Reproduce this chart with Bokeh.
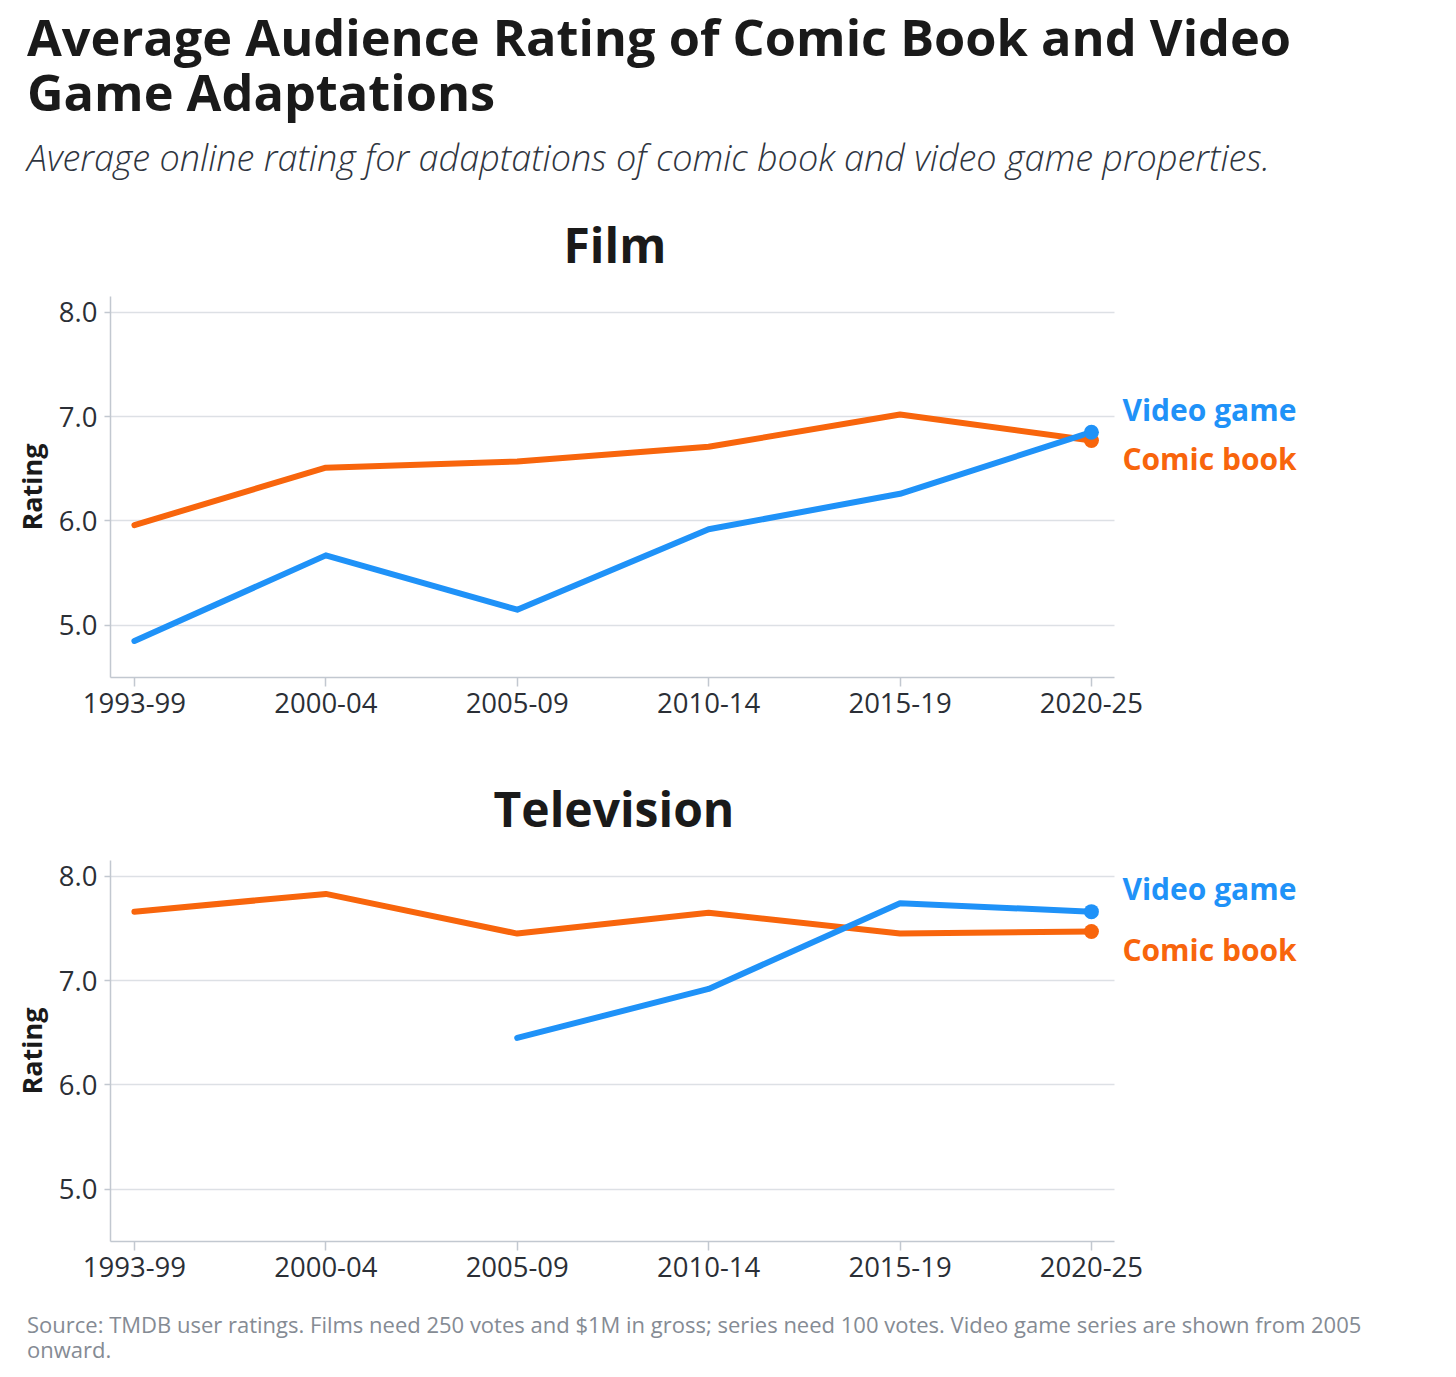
from bokeh.plotting import figure
from bokeh.models import Div, Range1d, FixedTicker, Title, PrintfTickFormatter
from bokeh.layouts import column
from bokeh.core.properties import value
from bokeh.embed import file_html
from bokeh.resources import INLINE

periods = ["1993-99", "2000-04", "2005-09", "2010-14", "2015-19", "2020-25"]
film_comic = [5.96, 6.51, 6.57, 6.71, 7.02, 6.77]
film_game = [4.85, 5.67, 5.15, 5.92, 6.26, 6.85]
tv_comic = [7.66, 7.83, 7.45, 7.65, 7.45, 7.47]
tv_game = [None, None, 6.45, 6.92, 7.74, 7.66]
y_ticks = [5.0, 6.0, 7.0, 8.0]
series_names = ["Video game", "Comic book"]

BLUE = "#1f92f8"
ORANGE = "#f8650c"
FONT = "Open Sans"
AXIS_C = "#c2c8d0"
GRID_C = "#dde0e5"
TEXT_C = "#2b2f36"

title_lines = ["Average Audience Rating of Comic Book and Video", "Game Adaptations"]
subtitle_text = "Average online rating for adaptations of comic book and video game properties."
source_text = ("Source: TMDB user ratings. Films need 250 votes and $1M in gross; series need 100 votes. "
               "Video game series are shown from 2005 onward.")

title_html = "".join(
    f"<div style='font-size:50.5px;font-weight:700;line-height:55px;height:55px;color:#1a1a1a;white-space:nowrap'>{t}</div>"
    for t in title_lines)

header = Div(
    text=(f"<div style=\"font-family:'{FONT}';padding-left:27px;padding-top:9px\">"
          f"{title_html}"
          f"<div style='font-size:36px;font-style:italic;font-weight:300;line-height:44px;color:#2f3540;margin-top:17px'>{subtitle_text}</div>"
          "</div>"),
    width=1440, height=188, margin=(0, 0, 0, 0))

footer = Div(
    text=(f"<div style=\"font-family:'{FONT}';padding-left:27px;font-size:22px;line-height:25px;color:#858b94;margin-top:12px\">"
          f"{source_text}</div>"),
    width=1400, height=77, margin=(0, 0, 0, 0))

PX_PER_UNIT = 191.4
FRAME_W = 1220
X0 = -0.125
X_AXIS_END = 5.12


def panel(name, title_offset, comic, game, border_top):
    height = border_top + 381 + 59
    p = figure(width=110 + FRAME_W + 10, height=height,
               x_range=Range1d(X0, X0 + FRAME_W / PX_PER_UNIT), y_range=Range1d(4.5, 8.15),
               output_backend="svg", toolbar_location=None,
               min_border_left=110, min_border_right=10, min_border_top=border_top, min_border_bottom=59)
    p.title = Title(text=name, align="left", offset=title_offset, text_font=FONT, text_font_size="48px",
                    text_font_style="bold", text_color="#1a1a1a", standoff=40)
    p.outline_line_color = None
    p.background_fill_color = "white"
    p.border_fill_color = "white"

    p.xgrid.visible = False
    p.ygrid.grid_line_color = GRID_C
    p.ygrid.grid_line_width = 1.5
    p.ygrid.ticker = FixedTicker(ticks=y_ticks)
    p.ygrid.cross_bounds = (X0, X_AXIS_END)

    xa = p.xaxis[0]
    xa.bounds = (X0, X_AXIS_END)
    xa.ticker = FixedTicker(ticks=list(range(len(periods))))
    xa.major_label_overrides = {i: lab for i, lab in enumerate(periods)}
    xa.axis_line_color = AXIS_C
    xa.axis_line_width = 1.5
    xa.major_tick_line_color = AXIS_C
    xa.major_tick_line_width = 1.5
    xa.major_tick_out = 9
    xa.major_tick_in = 0
    xa.minor_tick_line_color = None
    xa.major_label_text_font = FONT
    xa.major_label_text_font_size = "27.5px"
    xa.major_label_text_color = TEXT_C
    xa.major_label_standoff = 6

    ya = p.yaxis[0]
    ya.ticker = FixedTicker(ticks=y_ticks)
    ya.formatter = PrintfTickFormatter(format="%.1f")
    ya.axis_line_color = AXIS_C
    ya.axis_line_width = 1.5
    ya.major_tick_line_color = AXIS_C
    ya.major_tick_line_width = 1.5
    ya.major_tick_out = 6
    ya.major_tick_in = 0
    ya.minor_tick_line_color = None
    ya.major_label_text_font = FONT
    ya.major_label_text_font_size = "27.5px"
    ya.major_label_text_color = TEXT_C
    ya.major_label_standoff = 7
    ya.axis_label = "Rating"
    ya.axis_label_text_font = FONT
    ya.axis_label_text_font_size = "27px"
    ya.axis_label_text_font_style = "bold"
    ya.axis_label_text_color = "#1a1a1a"
    ya.axis_label_standoff = 6

    xs_c = [i for i, v in enumerate(comic) if v is not None]
    ys_c = [comic[i] for i in xs_c]
    xs_g = [i for i, v in enumerate(game) if v is not None]
    ys_g = [game[i] for i in xs_g]

    p.line(xs_c, ys_c, line_color=ORANGE, line_width=6, line_join="round", line_cap="round")
    p.line(xs_g, ys_g, line_color=BLUE, line_width=6, line_join="round", line_cap="round")
    p.scatter([xs_c[-1]], [ys_c[-1]], size=15, fill_color=ORANGE, line_color=None)
    p.scatter([xs_g[-1]], [ys_g[-1]], size=15, fill_color=BLUE, line_color=None)

    p.text(x=[xs_g[-1]], y=[ys_g[-1]], text=[series_names[0]], x_offset=31, y_offset=-23,
           text_font=value(FONT), text_font_size="30px", text_font_style="bold",
           text_color=BLUE, text_baseline="middle", text_align="left")
    p.text(x=[xs_c[-1]], y=[ys_c[-1]], text=[series_names[1]], x_offset=31, y_offset=18,
           text_font=value(FONT), text_font_size="30px", text_font_style="bold",
           text_color=ORANGE, text_baseline="middle", text_align="left")
    return p


film = panel("Film", 453, film_comic, film_game, 108)
tv = panel("Television", 383, tv_comic, tv_game, 124)

layout = column(header, film, tv, footer, spacing=0)

with open("out.html", "w") as f:
    f.write(file_html(layout, INLINE, title="Average Audience Rating"))
